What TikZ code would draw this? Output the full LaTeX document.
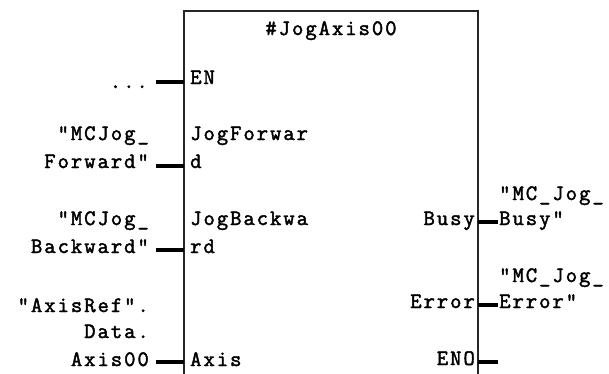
\documentclass[tikz,border=0pt]{standalone}
\usepackage{fontspec}
\newfontfamily\plcfont{Latin Modern Mono}[LetterSpace=9,FakeBold=2]
\begin{document}
\begin{tikzpicture}[x=1pt,y=-1pt,
  lbl/.style={inner sep=0pt,font=\plcfont\fontsize{22}{24}\selectfont,text=black},
  lft/.style={lbl,anchor=base east},
  rgt/.style={lbl,anchor=base west},
  boxline/.style={line width=1.4pt,draw=black!85},
  stub/.style={line width=3.2pt,draw=black}]
\useasboundingbox (0,0) rectangle (609,373);
% function block (open at the bottom, continues past the picture)
\coordinate (tl) at (184,11);
\coordinate (tr) at (478,11);
\coordinate (bl) at (184,380);
\coordinate (br) at (478,380);
\draw[boxline] (bl) -- (tl) -- (tr) -- (br);
\node[lbl,anchor=base] (title) at (331,35) {\#JogAxis00};
% input pins
\node[rgt] (pEN) at (190,84) {EN};
\node[rgt] (pJF1) at (190,140) {JogForwar};
\node[rgt] (pJF2) at (190,168) {d};
\node[rgt] (pJB1) at (190,225) {JogBackwa};
\node[rgt] (pJB2) at (190,253) {rd};
\node[rgt] (pAx) at (190,366) {Axis};
% output pins
\node[lft] (pBusy) at (475,225) {Busy};
\node[lft] (pErr) at (475,308) {Error};
\node[lft] (pENO) at (475,365) {ENO};
% input operands
\node[lft] (oEN) at (148,88) {...};
\node[lft] (oJF1) at (149,140) {"MCJog\_};
\node[lft] (oJF2) at (149,168) {Forward"};
\node[lft] (oJB1) at (149,225) {"MCJog\_};
\node[lft] (oJB2) at (149,253) {Backward"};
\node[lft] (oAx1) at (149,312) {"AxisRef".};
\node[lft] (oAx2) at (149,338) {Data.};
\node[lft] (oAx3) at (149,366) {Axis00};
% output operands
\node[rgt] (oB1) at (499,200) {"MC\_Jog\_};
\node[rgt] (oB2) at (499,225) {Busy"};
\node[rgt] (oE1) at (499,282) {"MC\_Jog\_};
\node[rgt] (oE2) at (499,308) {Error"};
% pin stubs
\coordinate (sEN) at (156,82);   \coordinate (eEN) at (184,82);
\coordinate (sJF) at (156,166);  \coordinate (eJF) at (184,166);
\coordinate (sJB) at (156,250);  \coordinate (eJB) at (184,250);
\coordinate (sAx) at (156,362);  \coordinate (eAx) at (184,362);
\coordinate (sBu) at (478,222);  \coordinate (eBu) at (498,222);
\coordinate (sEr) at (478,305);  \coordinate (eEr) at (498,305);
\coordinate (sEO) at (478,362);  \coordinate (eEO) at (498,362);
\foreach \a/\b in {sEN/eEN,sJF/eJF,sJB/eJB,sAx/eAx,sBu/eBu,sEr/eEr,sEO/eEO}
  \draw[stub] (\a) -- (\b);
\end{tikzpicture}
\end{document}
